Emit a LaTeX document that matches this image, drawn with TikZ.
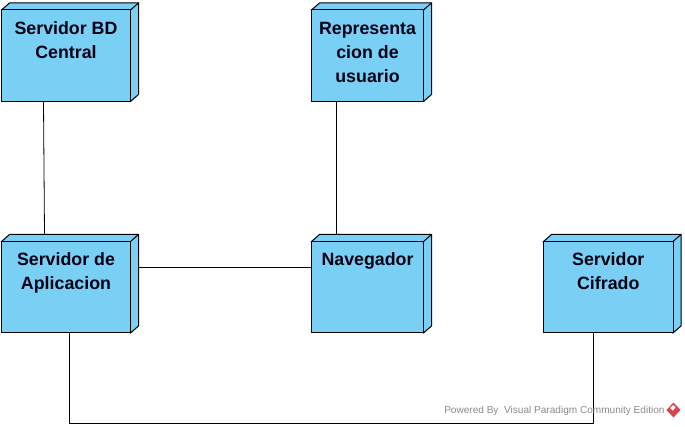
\documentclass[tikz,border=0pt]{standalone}
\usepackage{fontspec}
\setmainfont{Liberation Sans}
\usetikzlibrary{calc}
\definecolor{nodefill}{HTML}{7ACFF5}
\definecolor{wm}{HTML}{8A8A8A}
\definecolor{logored}{HTML}{D9434E}
\tikzset{
  x=0.75pt,y=-0.75pt,
  devbox/.style={draw=black,fill=nodefill,line width=0.75pt,inner sep=0pt,outer sep=0pt,anchor=north west},
  devlabel/.style={align=center,anchor=north,inner sep=0pt,text=black!92!blue,font=\bfseries\fontsize{13.35pt}{18pt}\selectfont},
  wire/.style={draw=black,line width=0.6pt},
  face/.style={draw=black,fill=nodefill,line width=0.75pt,line join=miter}
}
\newcommand{\devnode}[7]{% name, x, y, w, h, label, raise
  \path[face] (#2,#3) -- ++(8,-7) -- ++(#4,0) -- ++(0,#5) -- ++(-8,7) -- cycle;
  \draw[line width=0.75pt] (#2+#4,#3) -- ++(8,-7);
  \node[devbox,minimum width=#4*0.75pt,minimum height=#5*0.75pt] (#1) at (#2,#3) {};
  \node[devlabel] (#1t) at ($(#1.north)+(0,#7)$) {#6};
}
\begin{document}
\begin{tikzpicture}
\useasboundingbox (0,0) rectangle (685,427);
\devnode{bd}{1.5}{10}{129}{91.5}{Servidor BD\\Central}{11.5}
\devnode{rep}{311.5}{10}{112}{91.5}{Representa\\cion de\\usuario}{11.5}
\devnode{app}{1.5}{241.5}{129}{91.5}{Servidor de\\Aplicacion}{10.5}
\devnode{nav}{311.5}{241.5}{112}{91.5}{Navegador}{10.5}
\devnode{cif}{543.5}{241.5}{129.5}{91.5}{Servidor\\Cifrado}{10.5}
\coordinate (appright) at ($(app.north east)+(8,25.5)$);
\coordinate (appback) at ($(app.north west)+(43,-7)$);
\coordinate (navback) at ($(nav.north west)+(25,-7)$);
\draw[wire] ($(bd.south west)+(42,0)$) -- (appback);
\draw[wire] ($(rep.south west)+(25,0)$) -- (navback);
\draw[wire] (appright) -- (appright -| nav.west);
\draw[wire] ($(app.south west)+(68,0)$) -- ++(0,90.5) -| ($(cif.south west)+(50,0)$);
\node[text=wm,anchor=west,inner sep=0pt,font=\fontsize{7.55pt}{10pt}\selectfont] (wmark) at (444,410.5) {Powered By\ \ Visual Paradigm Community Edition};
\fill[logored] (673.5,402.5) -- (680.5,410) -- (673.5,417.5) -- (666.5,410) -- cycle;
\fill[white] (670,408) -- (673.5,405) -- (675.5,407.5) -- (672.5,410.5) -- cycle;
\end{tikzpicture}
\end{document}
